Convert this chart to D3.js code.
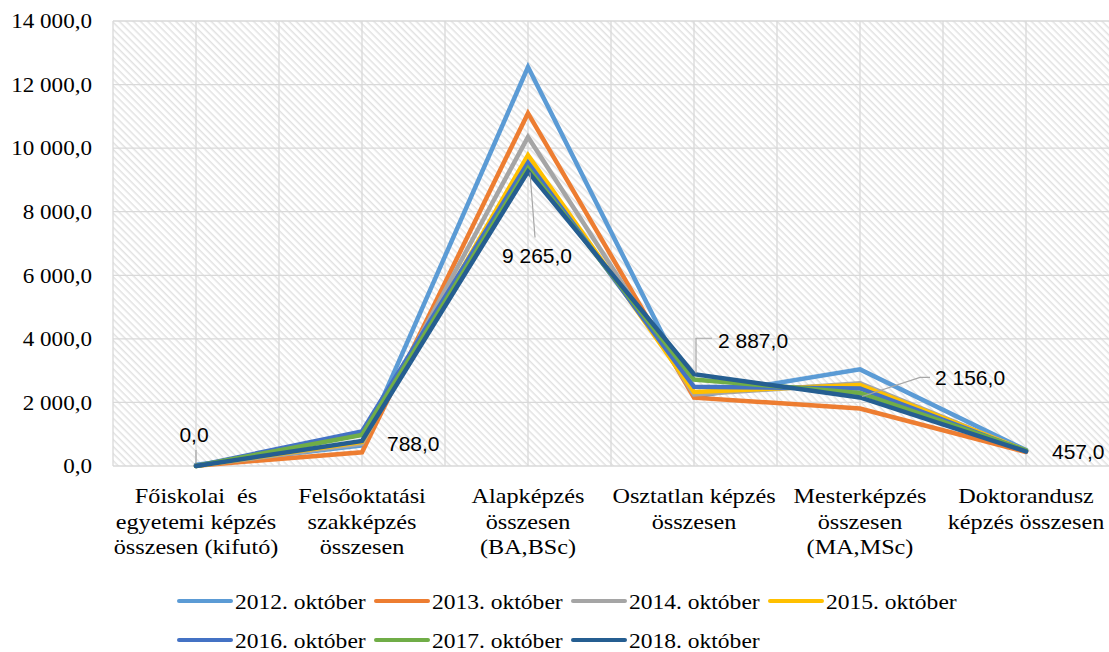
<!doctype html>
<meta charset="utf-8" />
<style>
    body { margin: 0; background: #fff; }
    svg { display: block; }
    .serif { font-family: "Liberation Serif", "Times New Roman", serif; }
</style>
<svg></svg>

<script src="https://cdn.jsdelivr.net/npm/d3@7/dist/d3.min.js"></script>

<script>
    // categories (x) and series
    var categories = [
        ['Főiskolai  és', 'egyetemi képzés', 'összesen (kifutó)'],
        ['Felsőoktatási', 'szakképzés', 'összesen'],
        ['Alapképzés', 'összesen', '(BA,BSc)'],
        ['Osztatlan képzés', 'összesen'],
        ['Mesterképzés', 'összesen', '(MA,MSc)'],
        ['Doktorandusz', 'képzés összesen']
    ];
    var years = ['2012. október', '2013. október', '2014. október', '2015. október',
        '2016. október', '2017. október', '2018. október'];
    var colors = ['#5b9bd5', '#ed7d31', '#a5a5a5', '#ffc000', '#4472c4', '#70ad47', '#255e91'];

    var s2012 = [40, 650, 12550, 2180, 3040, 500];
    var s2013 = [10, 430, 11100, 2150, 1810, 440];
    var s2014 = [5, 700, 10350, 2250, 2600, 470];
    var s2015 = [0, 760, 9780, 2330, 2550, 480];
    var s2016 = [0, 1090, 9540, 2490, 2440, 470];
    var s2017 = [0, 980, 9370, 2720, 2300, 490];
    var s2018 = [0, 788, 9265, 2887, 2156, 457];
    var allSeries = [s2012, s2013, s2014, s2015, s2016, s2017, s2018];

    var yTicks = [0, 2000, 4000, 6000, 8000, 10000, 12000, 14000];

    var W = 1109, H = 652;
    var mLeft = 113, mRight = 1109, mTop = 21, mBottom = 466;
    var stretch = 1.1; // serif text in the picture is a bit wide

    var svg = d3.select('svg')
        .attr('width', W)
        .attr('height', H)
        .attr('viewBox', '0 0 ' + W + ' ' + H)

    var fmt = d3.formatLocale({ decimal: ',', thousands: ' ', grouping: [3], currency: ['', ''] }).format(',.1f');

    var x = d3.scaleLinear().domain([-0.5, categories.length - 0.5]).range([mLeft, mRight]);
    var y = d3.scaleLinear().domain([0, 14000]).range([mBottom, mTop]);

    // hatched background
    var defs = svg.append('defs');
    var pat = defs.append('pattern')
        .attr('id', 'hatch')
        .attr('patternUnits', 'userSpaceOnUse')
        .attr('width', 5).attr('height', 5)
        .attr('patternTransform', 'rotate(45)');
    pat.append('rect').attr('width', 5).attr('height', 5).attr('fill', '#fff');
    pat.append('line')
        .attr('x1', 0).attr('y1', 0).attr('x2', 5).attr('y2', 0)
        .style('stroke', '#e2e2e2').style('stroke-width', 3);

    svg.append('rect')
        .attr('x', mLeft).attr('y', mTop)
        .attr('width', mRight - mLeft).attr('height', mBottom - mTop)
        .attr('fill', 'url(#hatch)');

    // grid
    var grid = svg.append('g');
    grid.selectAll('line.h').data(yTicks.slice(1)).enter().append('line')
        .attr('x1', mLeft).attr('x2', mRight)
        .attr('y1', function (d) { return y(d); }).attr('y2', function (d) { return y(d); })
        .style('stroke', '#d9d9d9').style('stroke-width', 1.3);
    grid.selectAll('line.v').data(d3.range(-0.5, categories.length - 0.5, 0.5)).enter().append('line')
        .attr('x1', function (d) { return x(d); }).attr('x2', function (d) { return x(d); })
        .attr('y1', mTop).attr('y2', mBottom)
        .style('stroke', '#d9d9d9').style('stroke-width', 1.3);
    svg.append('line')
        .attr('x1', mLeft).attr('x2', mRight).attr('y1', mBottom).attr('y2', mBottom)
        .style('stroke', '#d9d9d9').style('stroke-width', 1.5);

    // y axis labels
    var yAxis = svg.append('g')
        .attr('transform', 'translate(' + (mLeft - 21) + ',0)')
        .call(d3.axisLeft(y).tickValues(yTicks).tickSize(0).tickPadding(0).tickFormat(fmt))
        .attr('font-family', null)
        .attr('font-size', null);
    yAxis.select('.domain').remove();
    yAxis.selectAll('text')
        .attr('x', 0)
        .attr('class', 'serif')
        .attr('transform', 'scale(' + stretch + ',1)')
        .style('font-size', '21px')
        .style('fill', '#000');

    // category labels
    var cat = svg.append('g');
    categories.forEach(function (lines, i) {
        var t = cat.append('text')
            .attr('class', 'serif')
            .attr('transform', 'translate(' + x(i) + ',' + 503 + ') scale(' + stretch + ',1)')
            .attr('text-anchor', 'middle')
            .style('white-space', 'pre')
            .style('font-size', '22px')
            .style('fill', '#000');
        lines.forEach(function (l, j) {
            t.append('tspan').attr('x', 0).attr('y', j * 25.7).text(l);
        });
    });

    // lines
    var line = d3.line()
        .x(function (d, i) { return x(i); })
        .y(function (d) { return y(d); });

    svg.append('g').selectAll('path').data(allSeries).enter().append('path')
        .attr('d', line)
        .style('fill', 'none')
        .style('stroke', function (d, i) { return colors[i]; })
        .style('stroke-width', 4.5)
        .style('stroke-linejoin', 'miter')
        .style('stroke-linecap', 'round');

    // data labels of the 2018 series
    var lbl = svg.append('g')
        .style('font-family', '"Liberation Sans", Arial, sans-serif')
        .style('font-size', '21px')
        .style('fill', '#000');

    function px(i) { return x(i); }
    function py(i) { return y(s2018[i]); }

    var labelPos = [
        { i: 0, dx: -2, dy: -32, anchor: 'middle', leader: [[0, -16], [0, -3]] },
        { i: 1, dx: 25, dy: 2, anchor: 'start' },
        { i: 2, dx: 9, dy: 84, anchor: 'middle', leader: [[2, 1], [7, 66]] },
        { i: 3, dx: 24, dy: -34, anchor: 'start', leader: [[2, -1], [2, -36], [18, -36]] },
        { i: 4, dx: 75, dy: -20, anchor: 'start', leader: [[2, -1], [60, -20], [70, -20]] },
        { i: 5, dx: 26, dy: 0, anchor: 'start' }
    ];

    labelPos.forEach(function (p) {
        var cx = px(p.i), cy = py(p.i);
        if (p.leader) {
            svg.append('path')
                .attr('d', d3.line()(p.leader.map(function (q) { return [cx + q[0], cy + q[1]]; })))
                .style('fill', 'none')
                .style('stroke', '#a6a6a6')
                .style('stroke-width', 1.2);
        }
        lbl.append('text')
            .attr('x', cx + p.dx)
            .attr('y', cy + p.dy)
            .attr('dy', '0.36em')
            .attr('text-anchor', p.anchor)
            .text(fmt(s2018[p.i]));
    });

    // legend
    var legend = svg.append('g');
    years.forEach(function (name, i) {
        var col = i % 4, row = Math.floor(i / 4);
        var g = legend.append('g')
            .attr('transform', 'translate(' + (179 + col * 197) + ',' + (601 + row * 39) + ')');
        g.append('line')
            .attr('x1', 0).attr('x2', 52).attr('y1', 0).attr('y2', 0)
            .style('stroke', colors[i]).style('stroke-width', 4).style('stroke-linecap', 'round');
        g.append('text')
            .attr('class', 'serif')
            .attr('transform', 'translate(56,0) scale(1.07,1)')
            .attr('dy', '0.35em')
            .style('font-size', '22px')
            .style('fill', '#000')
            .text(name);
    });
</script>
